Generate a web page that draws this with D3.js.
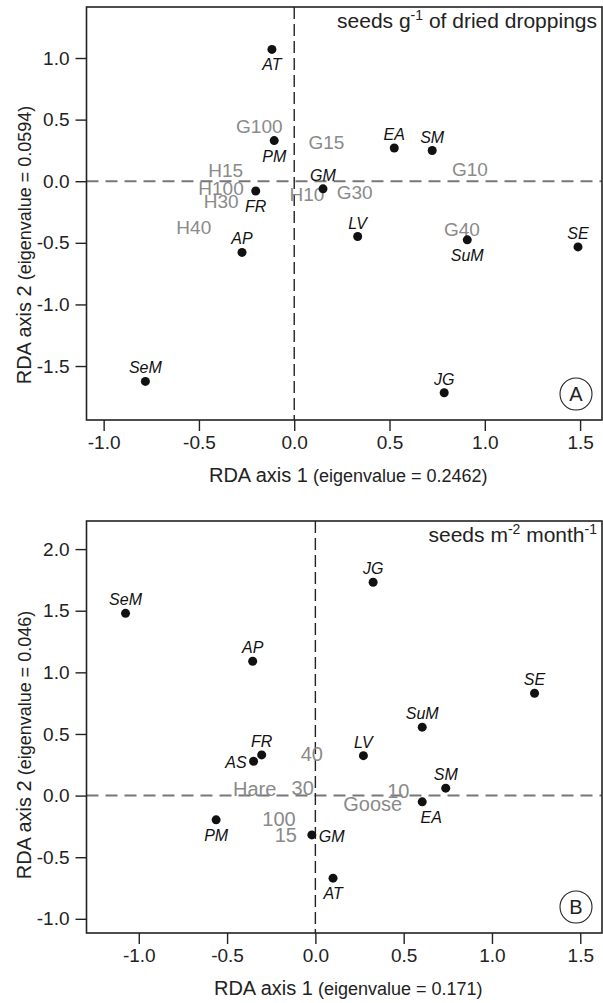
<!DOCTYPE html>
<html>
<head>
<meta charset="utf-8">
<script src="https://cdn.jsdelivr.net/npm/d3@7"></script>
<style>
  body { margin: 0; background: #fff; }
  svg { display: block; }
  text { font-family: "Liberation Sans", Arial, Helvetica, sans-serif; }
</style>
</head>
<body>
<div id="chart"></div>
<script>
// ---- panel A : seeds g-1 of dried droppings ----
const sitesA = ["AT", "PM", "EA", "SM", "GM", "FR", "LV", "SuM", "SE", "AP", "SeM", "JG"];
const rda1A = [-0.117, -0.105, 0.525, 0.724, 0.151, -0.202, 0.333, 0.908, 1.489, -0.274, -0.781, 0.787];
const rda2A = [1.07, 0.33, 0.27, 0.249, -0.062, -0.079, -0.449, -0.476, -0.533, -0.578, -1.625, -1.717];
const sideA = ["below", "below", "above", "above", "above", "below", "above", "below", "above", "above", "above", "above"];
const treatA = ["G100", "G15", "G10", "H15", "H100", "H30", "H10", "G30", "H40", "G40"];
const treat1A = [-0.183, 0.169, 0.922, -0.36, -0.384, -0.383, 0.067, 0.317, -0.527, 0.88];
const treat2A = [0.449, 0.314, 0.097, 0.093, -0.053, -0.16, -0.105, -0.089, -0.373, -0.392];

// ---- panel B : seeds m-2 month-1 ----
const sitesB = ["JG", "SeM", "AP", "SE", "SuM", "FR", "AS", "LV", "SM", "EA", "PM", "GM", "AT"];
const rda1B = [0.327, -1.075, -0.355, 1.241, 0.605, -0.304, -0.35, 0.272, 0.738, 0.605, -0.562, -0.02, 0.1];
const rda2B = [1.731, 1.479, 1.09, 0.83, 0.555, 0.33, 0.279, 0.324, 0.06, -0.051, -0.197, -0.319, -0.67];
const sideB = ["above", "above", "above", "above", "above", "above", "left", "above", "above", "belowR", "below", "right", "below"];
const treatB = ["40", "Hare", "30", "10", "Goose", "100", "15"];
const treat1B = [-0.02, -0.344, -0.072, 0.47, 0.325, -0.206, -0.167];
const treat2B = [0.337, 0.057, 0.062, 0.036, -0.067, -0.189, -0.318];

const xTicks = [-1, -0.5, 0, 0.5, 1, 1.5];
const yTicksA = [-1.5, -1, -0.5, 0, 0.5, 1];
const yTicksB = [-1, -0.5, 0, 0.5, 1, 1.5, 2];

const width = 603, height = 1003;
const svg = d3.select("#chart").append("svg")
  .attr("width", width)
  .attr("height", height);

// label offsets: dx, dy, anchor
const offsets = {
  above: [0, -8, "middle"],
  below: [0, 21, "middle"],
  belowR: [9, 21, "middle"],
  left: [-7, 7, "end"],
  right: [7, 7, "start"]
};

function drawPanel(p) {
  const x = d3.scaleLinear().domain(p.xDom).range([p.left, p.right]);
  const y = d3.scaleLinear().domain(p.yDom).range([p.bottom, p.top]);
  const g = svg.append("g");

  // axes
  const gx = g.append("g")
    .attr("transform", `translate(0,${p.bottom})`)
    .call(d3.axisBottom(x).tickValues(xTicks).tickSize(11).tickPadding(5)
      .tickFormat(d => d.toFixed(1)));
  const gy = g.append("g")
    .attr("transform", `translate(${p.left},0)`)
    .call(d3.axisLeft(y).tickValues(p.yTicks).tickSize(11).tickPadding(6)
      .tickFormat(d => d.toFixed(1)));
  [gx, gy].forEach(a => {
    a.select(".domain").remove();
    a.selectAll("line").attr("stroke", "#222").attr("stroke-width", 1.4);
    a.selectAll("text").attr("font-size", 19).attr("fill", "#222")
      .style("font-family", "'Liberation Sans', Arial, sans-serif");
  });

  // zero lines
  g.append("line")
    .attr("x1", p.left).attr("x2", p.right)
    .attr("y1", y(0)).attr("y2", y(0))
    .attr("stroke", "#777").attr("stroke-width", 2)
    .attr("stroke-dasharray", "12,7");
  g.append("line")
    .attr("x1", x(0)).attr("x2", x(0))
    .attr("y1", p.top).attr("y2", p.bottom)
    .attr("stroke", "#222").attr("stroke-width", 1.4)
    .attr("stroke-dasharray", "12,5");

  // treatment scores (grey)
  g.selectAll(".treat")
    .data(p.treat)
    .enter().append("text")
    .attr("x", (d, i) => x(p.t1[i]))
    .attr("y", (d, i) => y(p.t2[i]))
    .attr("dy", "0.36em")
    .attr("text-anchor", "middle")
    .attr("font-size", p.treatSize)
    .attr("fill", "#8a8a8a")
    .text(d => d);

  // sites
  g.selectAll(".site")
    .data(p.sites)
    .enter().append("circle")
    .attr("cx", (d, i) => x(p.r1[i]))
    .attr("cy", (d, i) => y(p.r2[i]))
    .attr("r", 4.5)
    .attr("fill", "#111");

  g.selectAll(".siteLab")
    .data(p.sites)
    .enter().append("text")
    .attr("x", (d, i) => x(p.r1[i]) + offsets[p.side[i]][0])
    .attr("y", (d, i) => y(p.r2[i]) + offsets[p.side[i]][1])
    .attr("text-anchor", (d, i) => offsets[p.side[i]][2])
    .attr("font-size", 16)
    .attr("font-style", "italic")
    .attr("fill", "#111")
    .text(d => d);

  // frame
  g.append("rect")
    .attr("x", p.left).attr("y", p.top)
    .attr("width", p.right - p.left).attr("height", p.bottom - p.top)
    .attr("fill", "none").attr("stroke", "#222").attr("stroke-width", 1.6);

  // title top right (superscripts shift up, next part shifts back)
  const t = g.append("text")
    .attr("x", p.right - 5).attr("y", p.top + 21)
    .attr("text-anchor", "end")
    .attr("font-size", 21).attr("fill", "#222");
  let shifted = false;
  p.title.forEach(part => {
    if (part.sup) {
      t.append("tspan").attr("font-size", 14).attr("dy", -8).text(part.sup);
      shifted = true;
    } else {
      t.append("tspan").attr("dy", shifted ? 8 : 0).text(part.txt);
      shifted = false;
    }
  });

  // panel letter
  g.append("circle")
    .attr("cx", p.right - 26).attr("cy", p.bottom - 26)
    .attr("r", 16)
    .attr("fill", "none").attr("stroke", "#222").attr("stroke-width", 1.1);
  g.append("text")
    .attr("x", p.right - 26).attr("y", p.bottom - 26)
    .attr("dy", "0.36em")
    .attr("text-anchor", "middle")
    .attr("font-size", 20).attr("fill", "#222")
    .text(p.letter);

  // x axis title
  const xt = g.append("text")
    .attr("x", (p.left + p.right) / 2 + 4)
    .attr("y", p.bottom + 62)
    .attr("text-anchor", "middle")
    .attr("fill", "#222");
  xt.append("tspan").attr("font-size", 20).text("RDA axis 1");
  xt.append("tspan").attr("font-size", 18).text(" (eigenvalue = " + p.eig1 + ")");

  // y axis title
  const yt = g.append("text")
    .attr("transform", `translate(31,${p.yTitleCenter}) rotate(-90)`)
    .attr("text-anchor", "middle")
    .attr("fill", "#222");
  yt.append("tspan").attr("font-size", 20).text("RDA axis 2");
  yt.append("tspan").attr("font-size", 18).text(" (eigenvalue = " + p.eig2 + ")");
}

drawPanel({
  left: 86.5, right: 602, top: 7, bottom: 420,
  xDom: [-1.09, 1.615], yDom: [-1.938, 1.414],
  yTicks: yTicksA,
  sites: sitesA, r1: rda1A, r2: rda2A, side: sideA,
  treat: treatA, t1: treat1A, t2: treat2A, treatSize: 19,
  title: [{ txt: "seeds g" }, { sup: "-1" }, { txt: " of dried droppings" }],
  letter: "A", eig1: "0.2462", eig2: "0.0594", yTitleCenter: 245
});

drawPanel({
  left: 86.5, right: 602, top: 521, bottom: 933,
  xDom: [-1.296, 1.623], yDom: [-1.115, 2.228],
  yTicks: yTicksB,
  sites: sitesB, r1: rda1B, r2: rda2B, side: sideB,
  treat: treatB, t1: treat1B, t2: treat2B, treatSize: 20,
  title: [{ txt: "seeds m" }, { sup: "-2" }, { txt: " month" }, { sup: "-1" }],
  letter: "B", eig1: "0.171", eig2: "0.046", yTitleCenter: 745
});
</script>
</body>
</html>
